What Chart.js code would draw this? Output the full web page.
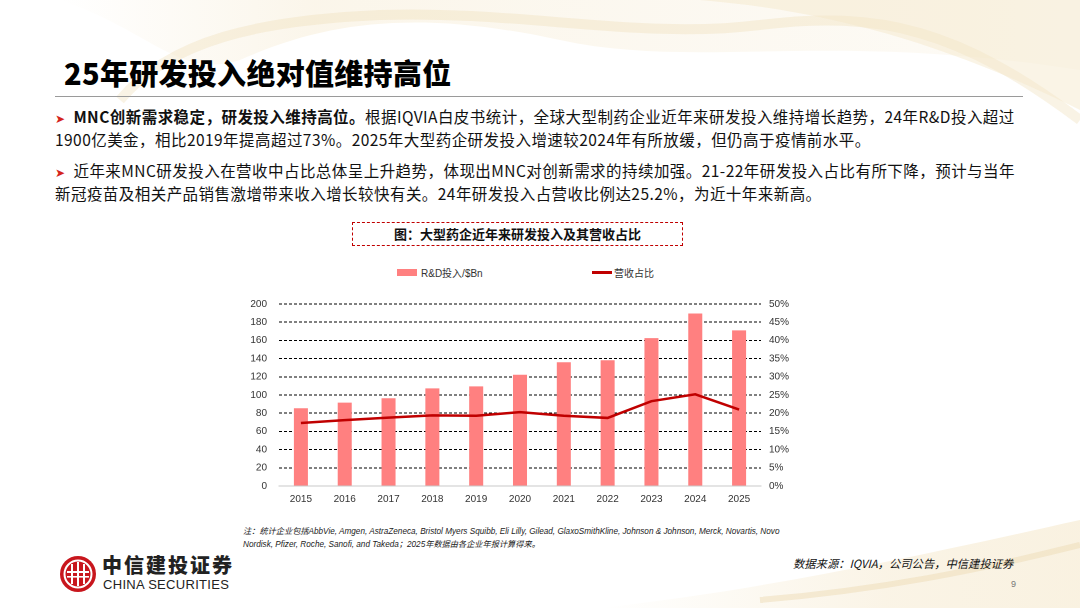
<!DOCTYPE html>
<html><head><meta charset="utf-8">
<script src="https://cdn.jsdelivr.net/npm/chart.js@4"></script>
<style>
html,body{margin:0;padding:0;background:#fff;}
#page{position:relative;width:1080px;height:608px;overflow:hidden;background:#fff;font-family:"Noto Sans CJK SC","Liberation Sans",sans-serif;color:#111;}
.abs{position:absolute;white-space:nowrap;}
#title{left:64px;top:51px;font-size:29px;font-weight:900;color:#000;letter-spacing:0.3px;}
#rule{left:55px;top:96px;width:968px;height:1px;background:#9a9a9a;}
.body{font-size:15.5px;line-height:23px;color:#111;letter-spacing:0.45px;}
.arrow{color:#d4241c;font-size:12px;margin-right:8px;}
#cap{left:352px;top:222px;width:329px;height:22px;border:1.5px dashed #c00000;text-align:center;font-size:13px;font-weight:700;line-height:22px;color:#111;}
.leg{font-family:"Liberation Sans","Noto Sans CJK SC",sans-serif;font-size:10px;color:#333;}
#note{left:243px;top:525px;font-size:8.2px;line-height:13px;font-style:italic;color:#222;font-family:"Liberation Sans","Noto Sans CJK SC",sans-serif;}
#src{left:793px;top:555px;font-size:11.3px;font-style:italic;color:#111;}
#pg{left:1011px;top:579px;font-size:9px;color:#777;font-family:"Liberation Sans",sans-serif;}
#chartbox{position:absolute;left:230px;top:286px;width:560px;height:224px;}
</style></head>
<body><div id="page">
<svg class="abs" style="left:0;top:0" width="1080" height="608" viewBox="0 0 1080 608">
  <defs>
    <linearGradient id="g1" x1="0" y1="0" x2="1" y2="0">
      <stop offset="0" stop-color="#f3e3c0" stop-opacity="0.0"/>
      <stop offset="0.25" stop-color="#f3e3c0" stop-opacity="0.55"/>
      <stop offset="0.7" stop-color="#f5e9cf" stop-opacity="0.45"/>
      <stop offset="1" stop-color="#f3e3c0" stop-opacity="0.2"/>
    </linearGradient>
    <linearGradient id="g2" x1="0" y1="0" x2="1" y2="0">
      <stop offset="0" stop-color="#f3e3c0" stop-opacity="0"/>
      <stop offset="0.6" stop-color="#f3e3c0" stop-opacity="0.5"/>
      <stop offset="1" stop-color="#f3e3c0" stop-opacity="0.6"/>
    </linearGradient>
  </defs>
  <path d="M60,0 C150,30 180,80 240,60 C330,20 420,10 560,40 C700,70 820,30 1080,70 L1080,0 Z" fill="url(#g1)" opacity="0.6"/>
  <path d="M120,100 C170,40 260,20 380,15 C520,10 640,40 760,25 C880,10 960,30 1080,120" fill="none" stroke="#efdcb4" stroke-width="10" opacity="0.35"/>
  <path d="M700,0 C820,10 940,40 1080,110 L1080,0 Z" fill="#f4e6c8" opacity="0.45"/>
  <path d="M600,608 C760,590 900,560 1080,520 L1080,608 Z" fill="url(#g2)" opacity="0.8"/>
  <path d="M760,600 C880,590 980,570 1080,545" fill="none" stroke="#eedcb6" stroke-width="6" opacity="0.5"/>
</svg>

<div id="title" class="abs">25年研发投入绝对值维持高位</div>
<div id="rule" class="abs"></div>

<div class="abs body" style="left:55px;top:105px;"><span class="arrow">➤</span><b>MNC创新需求稳定，研发投入维持高位。</b>根据IQVIA白皮书统计，全球大型制药企业近年来研发投入维持增长趋势，24年R&amp;D投入超过</div>
<div class="abs body" style="left:55px;top:128px;">1900亿美金，相比2019年提高超过73%。2025年大型药企研发投入增速较2024年有所放缓，但仍高于疫情前水平。</div>
<div class="abs body" style="left:55px;top:159px;"><span class="arrow">➤</span>近年来MNC研发投入在营收中占比总体呈上升趋势，体现出MNC对创新需求的持续加强。21-22年研发投入占比有所下降，预计与当年</div>
<div class="abs body" style="left:55px;top:182px;">新冠疫苗及相关产品销售激增带来收入增长较快有关。24年研发投入占营收比例达25.2%，为近十年来新高。</div>

<div id="cap" class="abs">图：大型药企近年来研发投入及其营收占比</div>

<div class="abs" style="left:397px;top:269px;width:20px;height:7px;background:#ff8080;"></div>
<div class="abs leg" style="left:421px;top:265px;">R&amp;D投入/$Bn</div>
<div class="abs" style="left:592px;top:271px;width:20px;height:2.5px;background:#c00000;"></div>
<div class="abs leg" style="left:614px;top:265px;">营收占比</div>

<div id="chartbox"><canvas id="c"></canvas></div>

<div id="note" class="abs">注：统计企业包括AbbVie, Amgen, AstraZeneca, Bristol Myers Squibb, Eli Lilly, Gilead, GlaxoSmithKline, Johnson &amp; Johnson, Merck, Novartis, Novo<br>Nordisk, Pfizer, Roche, Sanofi, and Takeda；2025年数据由各企业年报计算得来。</div>

<svg class="abs" style="left:59px;top:555px" width="38" height="38" viewBox="0 0 38 38">
  <circle cx="19" cy="19" r="18" fill="#c8161d"/>
  <circle cx="19" cy="19" r="13.5" fill="none" stroke="#fff" stroke-width="2"/>
  <rect x="8" y="16" width="22" height="2" fill="#fff"/>
  <rect x="12" y="9" width="2" height="20" fill="#fff"/>
  <rect x="18" y="7" width="2" height="24" fill="#fff"/>
  <rect x="24" y="9" width="2" height="20" fill="#fff"/>
  <rect x="8" y="21" width="22" height="1.6" fill="#fff"/>
</svg>
<div class="abs" style="left:102px;top:550px;font-size:20px;font-weight:900;color:#222;letter-spacing:2px;">中信建投证券</div>
<div class="abs" style="left:103px;top:577px;font-size:13px;color:#222;font-family:'Liberation Sans',sans-serif;letter-spacing:0.3px;">CHINA SECURITIES</div>

<div id="src" class="abs">数据来源：IQVIA，公司公告，中信建投证券</div>
<div id="pg" class="abs">9</div>
</div>

<script>
const years = ['2015','2016','2017','2018','2019','2020','2021','2022','2023','2024','2025'];
const rdSpend = [85.5, 91.6, 96.4, 107.3, 109.5, 122.2, 136.0, 138.2, 162.5, 189.5, 171.0];
const revShare = [17.3, 18.1, 18.8, 19.4, 19.3, 20.3, 19.3, 18.7, 23.3, 25.2, 21.0];
const leftAxis = {min: 0, max: 200, step: 20};
const rightAxis = {min: 0, max: 50, step: 5};

const axisFont = {family: '"Liberation Sans", Arial, sans-serif', size: 10};
new Chart(document.getElementById('c'), {
  data: {
    labels: years,
    datasets: [
      {type: 'line', label: '营收占比', data: revShare, yAxisID: 'y1', order: 0,
       borderColor: '#c00000', borderWidth: 2.5, pointRadius: 0, tension: 0, fill: false},
      {type: 'bar', label: 'R&D投入/$Bn', data: rdSpend, yAxisID: 'y', order: 1,
       backgroundColor: '#ff8080', barPercentage: 0.32, categoryPercentage: 1.0}
    ]
  },
  options: {
    responsive: true, maintainAspectRatio: false, animation: false,
    devicePixelRatio: 2,
    layout: {padding: {top: 9, bottom: 0, left: 0, right: 0}},
    plugins: {legend: {display: false}, tooltip: {enabled: false}},
    scales: {
      x: {
        grid: {display: false, drawTicks: false},
        border: {display: true, color: '#c8c8c8', width: 1},
        ticks: {font: axisFont, color: '#333', padding: 7, maxRotation: 0},
        afterFit(s) { s.height = 24; }
      },
      y: {
        position: 'left', min: leftAxis.min, max: leftAxis.max,
        ticks: {stepSize: leftAxis.step, font: axisFont, color: '#333', padding: 12},
        grid: {drawTicks: false, lineWidth: 1,
               color: (ctx) => (ctx.tick && ctx.tick.value === 0) ? 'rgba(0,0,0,0)' : '#000'},
        border: {display: false, dash: [3, 2]},
        afterFit(s) { s.width = 49; }
      },
      y1: {
        position: 'right', min: rightAxis.min, max: rightAxis.max,
        ticks: {stepSize: rightAxis.step, font: axisFont, color: '#333', padding: 8,
                callback: (v) => v + '%'},
        grid: {display: false, drawTicks: false},
        border: {display: false},
        afterFit(s) { s.width = 29; }
      }
    }
  }
});
</script>
</body></html>
